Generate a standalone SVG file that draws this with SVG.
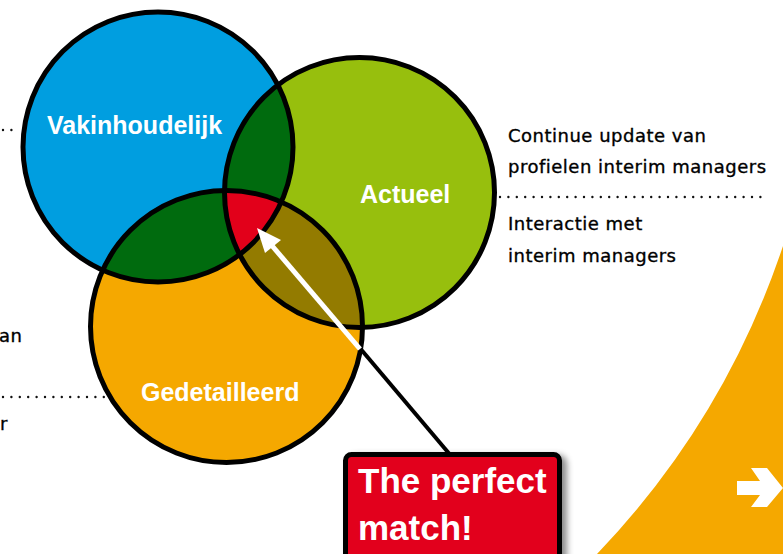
<svg xmlns="http://www.w3.org/2000/svg" width="783" height="554" viewBox="0 0 783 554">
<style>
.lbl{font-family:"Liberation Sans",Arial,sans-serif;font-weight:bold;font-size:25px;fill:#fff}
.txt{font-family:"DejaVu Sans","Noto Sans",sans-serif;font-size:18px;fill:#000;stroke:#000;stroke-width:0.35;letter-spacing:0.5px}
.ring{fill:none;stroke:#000;stroke-width:5}
.dots{stroke:#111;stroke-width:2.4;stroke-linecap:round;stroke-dasharray:0 8.4;fill:none}
</style>
<defs>
<clipPath id="cB"><circle cx="158" cy="147" r="135"/></clipPath>
<clipPath id="cG"><circle cx="359.5" cy="192.5" r="135"/></clipPath>
<filter id="sh" x="-10%" y="-10%" width="130%" height="130%"><feDropShadow dx="5" dy="3" stdDeviation="3" flood-color="#000" flood-opacity="0.45"/></filter>
</defs>
<rect width="783" height="554" fill="#fff"/>
<g id="orange-shape">
<path d="M783,246 A822,822 0 0 1 597,554 L783,554 Z" fill="#f5a800"/>
<polygon points="737,481 760,481 751,468 767,468 783,488 767,507 751,507 760,495 737,495" fill="#fff"/>
</g>
<g id="connectors">
<line class="dots" x1="3" y1="130" x2="14" y2="130"/>
<line class="dots" x1="3" y1="397" x2="108" y2="397"/>
<line class="dots" x1="500" y1="197" x2="768" y2="197"/>
</g>
<g id="vakinhoudelijk">
<circle cx="158" cy="147" r="135" fill="#009ee0"/>
</g>
<g id="actueel">
<circle cx="359.5" cy="192.5" r="135" fill="#97bf0d"/>
</g>
<g id="gedetailleerd">
<circle cx="226.5" cy="326.5" r="136" fill="#f5a800"/>
</g>
<g id="overlaps">
<circle cx="359.5" cy="192.5" r="135" fill="#006b0e" clip-path="url(#cB)"/>
<circle cx="226.5" cy="326.5" r="136" fill="#006b0e" clip-path="url(#cB)"/>
<circle cx="226.5" cy="326.5" r="136" fill="#937b00" clip-path="url(#cG)"/>
<g clip-path="url(#cG)"><circle cx="226.5" cy="326.5" r="136" fill="#e2001a" clip-path="url(#cB)"/></g>
</g>
<g id="outlines">
<circle class="ring" cx="158" cy="147" r="135"/>
<circle class="ring" cx="359.5" cy="192.5" r="135"/>
<circle class="ring" cx="226.5" cy="326.5" r="136"/>
</g>
<g id="labels">
<text class="lbl" x="47" y="134">Vakinhoudelijk</text>
<text class="lbl" x="360" y="203">Actueel</text>
<text class="lbl" x="141" y="401">Gedetailleerd</text>
</g>
<g id="notes">
<text class="txt" x="508" y="142">Continue update van</text>
<text class="txt" x="508" y="173">profielen interim managers</text>
<text class="txt" x="508" y="230">Interactie met</text>
<text class="txt" x="508" y="262">interim managers</text>
<text class="txt" x="-1" y="342">an</text>
<text class="txt" x="0" y="430">r</text>
</g>
<g id="pointer">
<line x1="452" y1="457" x2="359" y2="347" stroke="#000" stroke-width="4"/>
<line x1="360" y1="349" x2="268" y2="241" stroke="#fff" stroke-width="5"/>
<polygon points="257,228 265,253 281,240" fill="#fff"/>
</g>
<g id="perfect-match">
<rect x="345.5" y="454.5" width="214" height="112" rx="6" fill="#e2001a" stroke="#000" stroke-width="5" filter="url(#sh)"/>
<text class="lbl" style="font-size:35px" x="358" y="493">The perfect</text>
<text class="lbl" style="font-size:35px" x="358" y="540">match!</text>
</g>
</svg>
